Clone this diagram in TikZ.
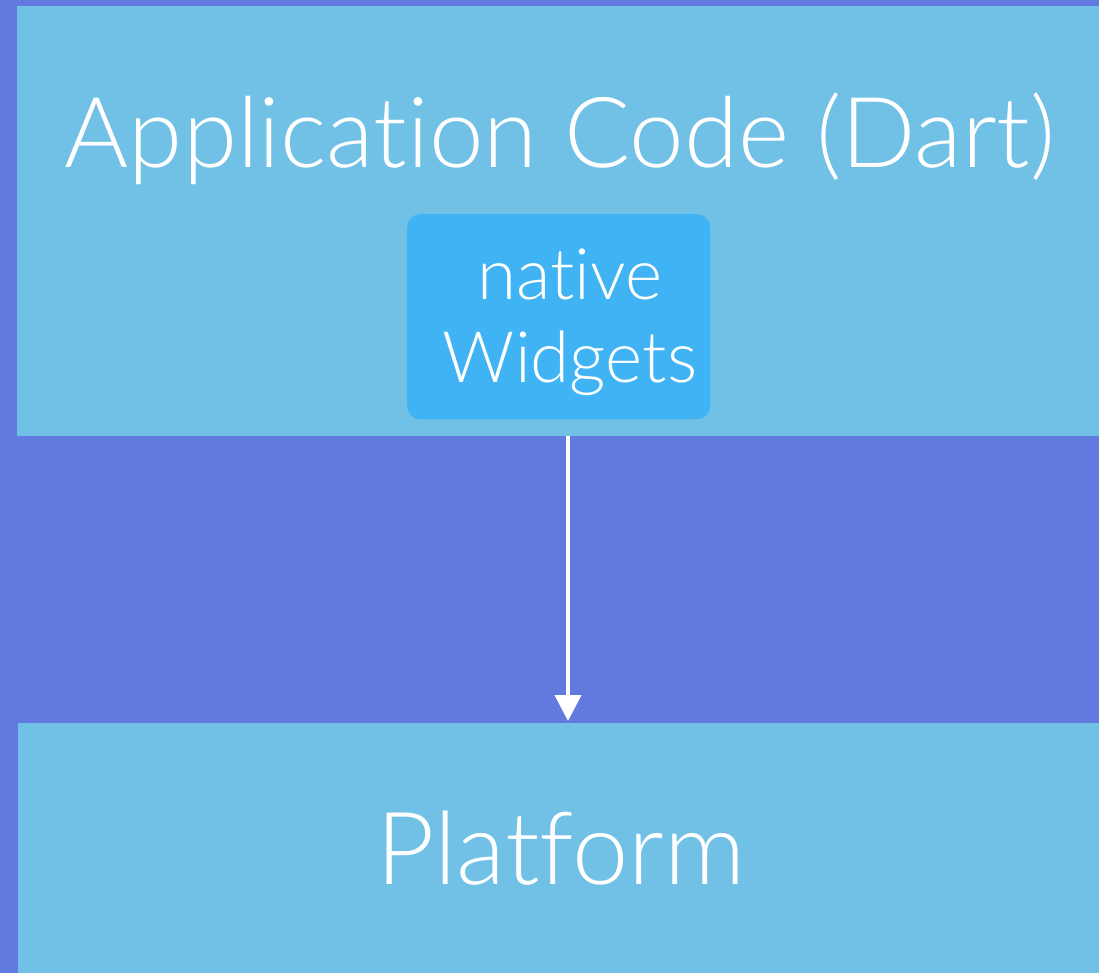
\documentclass[tikz,border=0pt]{standalone}
\usepackage{fontspec}
\setmainfont{Lato Light}[RawFeature={-liga;-dlig}]
\usetikzlibrary{arrows.meta}

\definecolor{bgblue}{HTML}{6279E0}
\definecolor{bandblue}{HTML}{71C0E5}
\definecolor{widgetblue}{HTML}{3FB3F3}

\tikzset{
  band/.style={rectangle, fill=bandblue, draw=none, inner sep=0pt},
  widgetbox/.style={rectangle, rounded corners=13pt, fill=widgetblue, draw=none, inner sep=0pt},
  bigtext/.style={text=white, inner sep=0pt, font=\fontsize{98}{118}\selectfont},
  smalltext/.style={text=white, inner sep=0pt, font=\fontsize{71}{82}\selectfont},
  flow/.style={draw=white, line width=4pt, -{Triangle[width=26pt,length=26pt]}}
}

\begin{document}
\begin{tikzpicture}[x=1pt, y=-1pt]
  % canvas
  \fill[bgblue] (0,0) rectangle (1099,973);
  \useasboundingbox (0,0) rectangle (1099,973);

  % application layer
  \node[band, minimum width=1082pt, minimum height=430pt, anchor=north west] (app) at (17,6) {};
  \node[bigtext, anchor=base] (apptitle) at (560,168) {Application Code (Dart)};
  \node[widgetbox, minimum width=303pt, minimum height=205pt, anchor=north west] (widgets) at (407,214) {};
  \node[smalltext, anchor=base] (wl1) at (570,300) {native};
  \node[smalltext, anchor=base] (wl2) at (570,382) {Widgets};

  % platform layer
  \node[band, minimum width=1081pt, minimum height=250pt, anchor=north west] (platform) at (18,723) {};
  \node[bigtext, font=\fontsize{101}{121}\selectfont, anchor=base] (plattitle) at (561,884) {Platform};

  % call into the platform
  \coordinate (ax) at (568,0);
  \draw[flow] (app.south -| ax) -- ([yshift=2pt]platform.north -| ax);
\end{tikzpicture}
\end{document}
